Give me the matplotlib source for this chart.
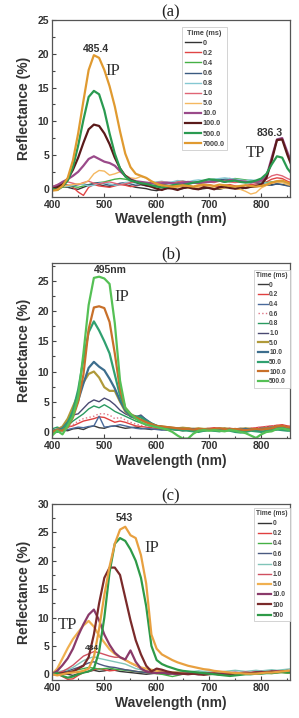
import numpy as np
import matplotlib
matplotlib.use('Agg')
import matplotlib.pyplot as plt
from matplotlib.ticker import MultipleLocator

SANS = 'Liberation Sans'
SERIF = 'Liberation Serif'
plt.rcParams['font.family'] = [SANS, 'DejaVu Sans']
plt.rcParams['font.weight'] = 'bold'

# wavelength grid shared by all spectra (nm)
wl = np.arange(400, 861, 10)

# ---------------- panel (a) ----------------
a_labels = ['0', '0.2', '0.4', '0.6', '0.8', '1.0', '5.0', '10.0', '100.0', '500.0', '7000.0']
a_colors = ['#333333', '#e04545', '#45b045', '#3a5a80', '#85c8d2', '#e06575',
            '#f5b860', '#9a4a8a', '#5a1a1a', '#2a9a50', '#e09a30']
a_0 = [0.0, 0.2, 0.3, 0.2, 0.0, -0.1, 0.2, 0.5, 0.7, 0.6,
       0.4, 0.3, 0.5, 0.7, 0.6, 0.4, 0.2, 0.1, 0.0, -0.2,
       -0.3, -0.1, 0.0, 0.1, -0.1, 0.0, 0.2, 0.1, -0.1, 0.0,
       0.1, 0.0, -0.1, 0.1, 0.2, 0.0, -0.1, 0.1, 0.2, 0.3,
       0.4, 0.5, 0.6, 0.7, 0.6, 0.5, 0.4]
a_02 = [0.0, 0.4, 0.8, 0.5, 0.2, -0.5, -1.0, 0.2, 0.6, 0.4,
        0.3, 0.2, 0.4, 0.6, 0.5, 0.3, 0.4, 0.6, 0.5, 0.3,
        0.4, 0.5, 0.3, 0.2, 0.4, 0.6, 0.5, 0.3, 0.4, 0.5,
        0.6, 0.4, 0.3, 0.5, 0.6, 0.4, 0.3, 0.5, 0.6, 0.7,
        0.8, 1.0, 1.4, 1.6, 1.5, 1.1, 0.8]
a_04 = [0.1, 0.3, 0.2, 0.4, 0.3, 0.2, 0.4, 0.6, 0.8, 0.9,
        1.0, 1.2, 1.4, 1.5, 1.4, 1.2, 1.0, 0.8, 0.6, 0.4,
        0.5, 0.6, 0.8, 0.9, 1.0, 1.1, 1.0, 0.9, 1.0, 1.2,
        1.3, 1.4, 1.3, 1.2, 1.4, 1.5, 1.4, 1.3, 1.2, 1.1,
        1.0, 0.9, 1.0, 1.1, 1.0, 0.8, 0.6]
a_06 = [0.1, 0.2, 0.4, 0.5, 0.4, 0.6, 0.7, 0.5, 0.8, 0.9,
        0.7, 0.5, 0.6, 0.8, 0.9, 0.7, 0.5, 0.6, 0.4, 0.3,
        0.4, 0.6, 0.7, 0.8, 0.9, 0.8, 0.7, 0.8, 0.9, 1.0,
        1.1, 1.2, 1.3, 1.4, 1.5, 1.3, 1.2, 1.1, 1.0, 0.9,
        0.8, 0.6, 0.5, 0.7, 0.6, 0.4, 0.3]
a_08 = [0.3, 0.5, 0.4, 0.3, 0.5, 0.7, 0.6, 0.4, 0.5, 0.8,
        0.9, 0.7, 0.5, 0.6, 0.9, 1.0, 0.8, 0.6, 0.7, 0.9,
        1.0, 1.1, 0.9, 1.0, 1.2, 1.1, 1.0, 1.2, 1.3, 1.2,
        1.3, 1.4, 1.5, 1.6, 1.5, 1.4, 1.3, 1.2, 1.3, 1.2,
        1.0, 0.8, 0.9, 1.0, 0.9, 0.8, 0.7]
a_1 = [0.3, 0.6, 0.9, 1.0, 0.8, 0.6, 0.9, 1.1, 0.8, 0.7,
       0.9, 1.0, 0.8, 0.6, 0.7, 0.9, 1.0, 0.8, 0.7, 0.8,
       0.9, 1.0, 0.9, 0.8, 1.0, 1.1, 0.9, 0.8, 1.0, 1.1,
       1.0, 0.9, 1.1, 1.2, 1.0, 0.9, 1.0, 1.1, 0.9, 1.0,
       1.1, 1.4, 1.9, 2.1, 1.9, 1.5, 1.2]
a_5 = [-0.2, 0.1, 0.3, 0.5, 0.6, 0.7, 0.8, 1.2, 2.2, 2.7,
       2.6, 2.0, 2.2, 2.5, 2.0, 1.6, 1.5, 1.8, 1.6, 1.0,
       0.6, 0.4, 0.2, 0.1, 0.2, 0.3, 0.1, 0.0, 0.2, 0.3,
       0.2, 0.1, 0.0, 0.1, 0.2, 0.0, -0.1, -0.4, -0.8, -0.6,
       0.1, 0.5, 0.8, 1.0, 0.9, 0.6, 0.4]
a_10 = [0.2, 0.5, 1.0, 1.4, 1.9, 2.5, 3.4, 4.4, 4.8, 4.4,
        4.0, 3.8, 3.4, 2.6, 1.9, 1.4, 1.1, 1.0, 0.9, 0.8,
        0.7, 0.8, 0.9, 0.8, 0.7, 0.9, 1.0, 0.9, 0.8, 0.9,
        1.0, 1.1, 1.2, 1.0, 1.3, 1.2, 1.1, 1.0, 0.9, 1.1,
        1.2, 1.8, 4.6, 7.3, 7.5, 5.4, 3.4]
a_100 = [0.0, 0.2, 0.6, 1.4, 2.8, 4.6, 6.8, 8.8, 9.5, 9.3,
         8.2, 6.6, 4.6, 3.0, 1.9, 1.3, 1.0, 0.7, 0.5, 0.3,
         0.0, -0.2, 0.1, 0.0, -0.2, 0.1, 0.2, 0.0, -0.1, 0.2,
         0.1, -0.1, 0.2, 0.3, 0.1, 0.0, 0.2, 0.1, 0.3, 0.4,
         0.6, 1.6, 4.2, 7.2, 7.3, 5.0, 3.0]
a_500 = [0.0, -0.2, 0.3, 1.2, 3.2, 6.4, 10.2, 13.6, 14.5, 14.0,
         11.6, 8.2, 5.2, 3.0, 1.8, 1.2, 1.0, 0.8, 0.7, 0.5,
         0.3, 0.2, 0.3, 0.5, 0.6, 0.5, 0.7, 0.9, 1.0, 1.2,
         1.4, 1.3, 1.2, 1.0, 1.1, 1.2, 1.0, 0.9, 1.0, 1.2,
         1.5, 2.2, 3.6, 4.8, 4.6, 3.0, 2.0]
a_7000 = [-0.3, -0.2, 0.4, 1.6, 4.2, 8.2, 13.0, 17.6, 19.8, 19.4,
          17.6, 15.2, 12.2, 8.5, 5.2, 3.2, 2.2, 1.9, 1.6, 1.1,
          0.7, 0.5, 0.4, 0.3, 0.4, 0.5, 0.4, 0.3, 0.5, 0.6,
          0.5, 0.4, 0.6, 0.5, 0.4, 0.3, 0.4, 0.5, 0.4, 0.3,
          0.4, 0.6, 0.9, 1.1, 1.2, 0.9, 0.6]
a_curves = [a_0, a_02, a_04, a_06, a_08, a_1, a_5, a_10, a_100, a_500, a_7000]

# ---------------- panel (b) ----------------
b_labels = ['0', '0.2', '0.4', '0.6', '0.8', '1.0', '5.0', '10.0', '50.0', '100.0', '500.0']
b_colors = ['#3a3a3a', '#e04040', '#4a6a9a', '#e07585', '#2a9a60', '#4a4a72',
            '#b09a3a', '#3d6e8e', '#30a070', '#c8702a', '#55c055']
b_styles = ['-', '-', '-', ':', '-', '-', '-', '-', '-', '-', '-']
b_0 = [0.2, 0.4, 0.3, 0.2, 0.5, 0.6, 0.4, 0.8, 1.0, 0.7,
       0.6, 0.9, 1.0, 0.8, 0.6, 0.7, 0.8, 0.6, 0.5, 0.4,
       0.5, 0.4, 0.3, 0.4, 0.3, 0.2, 0.3, 0.4, 0.3, 0.2,
       0.3, 0.4, 0.3, 0.2, 0.3, 0.4, 0.3, 0.2, 0.3, 0.4,
       0.5, 0.6, 0.5, 0.4, 0.5, 0.4, 0.3]
b_02 = [0.0, 0.2, 0.5, 0.8, 1.0, 1.4, 1.8, 2.0, 2.2, 2.5,
        2.4, 2.0, 1.6, 1.8, 1.6, 1.3, 1.0, 0.9, 0.8, 0.7,
        0.6, 0.5, 0.6, 0.5, 0.4, 0.5, 0.6, 0.5, 0.4, 0.5,
        0.6, 0.7, 0.6, 0.5, 0.6, 0.5, 0.4, 0.5, 0.6, 0.7,
        0.8, 0.9, 1.0, 1.1, 1.2, 1.0, 0.9]
b_04 = [0.1, 0.3, 0.2, 0.4, 0.6, 0.8, 0.7, 0.9, 1.0, 2.6,
        0.8, 0.9, 1.0, 1.2, 1.0, 0.8, 0.6, 0.5, 0.6, 0.5,
        0.4, 0.3, 0.4, 0.5, 0.4, 0.3, 0.4, 0.5, 0.4, 0.3,
        0.4, 0.5, 0.4, 0.3, 0.4, 0.5, 0.4, 0.3, 0.4, 0.5,
        0.4, 0.5, 0.6, 0.7, 0.6, 0.5, 0.4]
b_06 = [0.0, 0.3, 0.6, 0.8, 1.2, 1.8, 2.2, 2.4, 2.6, 3.0,
        3.0, 2.8, 2.2, 2.4, 2.0, 1.6, 1.3, 1.1, 1.0, 0.9,
        0.8, 0.7, 0.6, 0.7, 0.6, 0.5, 0.6, 0.5, 0.4, 0.5,
        0.6, 0.5, 0.4, 0.5, 0.6, 0.5, 0.4, 0.5, 0.6, 0.7,
        0.8, 0.9, 1.0, 1.1, 1.0, 0.9, 0.8]
b_08 = [0.5, 0.8, 0.5, 1.0, 1.8, 2.4, 3.0, 3.8, 4.3, 4.0,
        4.5, 4.0, 3.4, 3.0, 2.6, 2.2, 1.8, 1.5, 1.2, 1.0,
        0.8, 0.6, 0.5, 0.4, 0.3, 0.2, 0.3, 0.2, 0.1, 0.2,
        0.3, 0.2, 0.1, 0.2, 0.3, 0.2, 0.1, 0.2, 0.3, 0.2,
        0.1, 0.0, 0.2, 0.4, 0.6, 0.5, 0.4]
b_1 = [0.2, 0.5, 0.8, 1.6, 2.8, 3.0, 3.9, 4.8, 5.3, 5.0,
       5.6, 5.2, 4.5, 3.6, 3.0, 2.6, 2.5, 2.8, 2.0, 1.4,
       1.0, 0.9, 0.8, 0.7, 0.6, 0.5, 0.6, 0.5, 0.4, 0.5,
       0.4, 0.5, 0.6, 0.5, 0.4, 0.5, 0.6, 0.5, 0.4, 0.5,
       0.6, 0.7, 0.8, 0.9, 0.8, 0.7, 0.6]
b_5 = [0.0, 0.4, 0.9, 2.2, 4.2, 6.2, 8.2, 9.6, 10.0, 9.0,
       7.4, 6.8, 6.8, 5.0, 3.4, 2.6, 2.2, 2.0, 1.6, 1.2,
       1.0, 0.9, 0.8, 0.7, 0.6, 0.7, 0.6, 0.5, 0.6, 0.5,
       0.5, 0.4, 0.5, 0.6, 0.5, 0.4, 0.5, 0.6, 0.5, 0.4,
       0.5, 0.6, 0.7, 0.9, 0.8, 0.7, 0.6]
b_10 = [0.0, 0.3, 0.6, 1.6, 3.0, 5.2, 8.0, 10.6, 11.6, 10.8,
        10.2, 8.8, 7.2, 5.2, 3.6, 2.6, 2.3, 2.6, 2.0, 1.4,
        1.0, 0.8, 0.7, 0.6, 0.5, 0.5, 0.4, 0.5, 0.4, 0.3,
        0.4, 0.3, 0.4, 0.5, 0.4, 0.3, 0.4, 0.5, 0.4, 0.3,
        0.4, 0.5, 0.6, 0.8, 0.7, 0.6, 0.5]
b_50 = [0.2, 0.0, 0.4, 1.5, 3.5, 7.0, 12.0, 16.5, 18.3, 16.8,
        15.0, 13.0, 9.5, 6.0, 3.8, 2.8, 2.6, 2.4, 1.8, 1.4,
        1.0, 0.8, 0.6, 0.5, 0.4, 0.3, 0.2, 0.1, 0.0, 0.2,
        0.3, 0.2, 0.1, 0.3, 0.2, 0.0, -0.1, 0.0, 0.2, 0.1,
        0.0, 0.2, 0.3, 0.4, 0.3, 0.2, 0.2]
b_100 = [0.0, 0.3, 0.2, 0.8, 2.4, 5.0, 9.5, 17.0, 20.6, 20.8,
         20.5, 18.2, 13.0, 7.0, 4.0, 3.0, 2.4, 2.0, 1.6, 1.3,
         1.0, 0.9, 0.8, 0.7, 0.6, 0.5, 0.5, 0.4, 0.5, 0.4,
         0.4, 0.5, 0.6, 0.5, 0.4, 0.5, 0.4, 0.3, 0.4, 0.5,
         0.4, 0.5, 0.6, 0.9, 1.0, 0.8, 0.6]
b_500 = [-0.6, 0.2, -0.4, 1.0, 2.6, 5.8, 13.0, 21.0, 25.5, 25.7,
         25.4, 24.5, 18.0, 8.5, 4.0, 3.0, 2.2, 1.6, 1.2, 1.0,
         0.8, 0.6, 0.4, 0.0, -0.6, -1.1, -1.1, -0.3, 0.2, 0.3,
         0.2, 0.3, 0.2, 0.1, 0.3, 0.2, 0.0, -0.2, -0.6, -1.0,
         -0.4, 0.0, 0.1, 0.5, 0.6, 0.4, 0.3]
b_curves = [b_0, b_02, b_04, b_06, b_08, b_1, b_5, b_10, b_50, b_100, b_500]

# ---------------- panel (c) ----------------
c_labels = ['0', '0.2', '0.4', '0.6', '0.8', '1.0', '5.0', '10.0', '100', '500']
c_colors = ['#333333', '#e04040', '#45b045', '#4a5a80', '#80c4b8', '#d05060',
            '#f0b050', '#8a3a6a', '#7a2a2a', '#2e9a48']
c_0 = [0.0, 0.2, 0.1, 0.0, -0.2, 0.1, 0.3, 0.5, 0.7, 0.5,
       0.6, 0.8, 0.7, 0.5, 0.4, 0.3, 0.2, 0.1, 0.0, 0.1,
       0.2, 0.1, 0.0, 0.1, 0.2, 0.1, 0.0, 0.1, 0.2, 0.1,
       0.0, 0.1, 0.2, 0.1, 0.0, 0.1, 0.2, 0.3, 0.2, 0.3,
       0.4, 0.3, 0.4, 0.5, 0.4, 0.5, 0.4]
c_02 = [0.2, 0.0, -0.4, -0.9, -0.8, -0.2, 0.3, 0.5, 0.8, 1.0,
        0.8, 0.6, 0.7, 0.9, 0.8, 0.6, 0.5, 0.4, 0.3, 0.2,
        0.3, 0.2, 0.1, 0.2, 0.3, 0.2, 0.1, 0.2, 0.3, 0.2,
        0.1, 0.2, 0.3, 0.2, 0.1, 0.2, 0.3, 0.2, 0.3, 0.4,
        0.5, 0.4, 0.3, 0.4, 0.5, 0.4, 0.3]
c_04 = [0.0, 0.3, 0.5, 0.4, 0.6, 0.8, 1.0, 1.2, 1.1, 0.9,
        1.0, 1.1, 0.9, 0.8, 0.7, 0.6, 0.5, 0.4, 0.3, 0.2,
        0.1, 0.0, -0.2, -0.4, -0.2, 0.0, 0.1, 0.2, 0.1, 0.0,
        0.1, 0.2, 0.1, 0.0, 0.1, 0.2, 0.1, 0.2, 0.3, 0.2,
        0.3, 0.2, 0.3, 0.4, 0.3, 0.2, 0.3]
c_06 = [0.3, 0.5, 0.4, 0.6, 0.9, 1.2, 1.6, 2.0, 2.2, 1.8,
        1.5, 1.3, 1.2, 1.0, 0.8, 0.7, 0.5, 0.4, 0.3, 0.2,
        0.3, 0.2, 0.1, 0.2, 0.3, 0.2, 0.1, 0.2, 0.3, 0.2,
        0.3, 0.2, 0.3, 0.4, 0.3, 0.2, 0.3, 0.4, 0.3, 0.2,
        0.3, 0.4, 0.5, 0.4, 0.5, 0.6, 0.5]
c_08 = [0.2, 0.4, 0.6, 0.8, 1.2, 1.8, 2.4, 2.8, 3.1, 2.8,
        2.6, 2.4, 2.2, 2.0, 1.8, 1.4, 1.0, 0.8, 0.6, 0.5,
        0.4, 0.5, 0.4, 0.3, 0.4, 0.5, 0.4, 0.5, 0.6, 0.5,
        0.6, 0.5, 0.4, 0.5, 0.6, 0.7, 0.6, 0.5, 0.6, 0.7,
        0.6, 0.7, 0.8, 0.7, 0.8, 0.9, 1.0]
c_1 = [0.0, 0.2, 0.5, 1.0, 1.6, 2.4, 3.2, 3.6, 4.0, 3.8,
       3.5, 3.2, 3.0, 3.0, 2.6, 2.0, 1.5, 1.0, 0.6, 0.4,
       0.3, 0.4, 0.3, 0.2, 0.1, 0.2, 0.3, 0.2, 0.1, 0.2,
       0.3, 0.2, 0.1, 0.2, 0.3, 0.2, 0.3, 0.4, 0.3, 0.4,
       0.5, 0.4, 0.5, 0.6, 0.5, 0.6, 0.5]
c_5 = [0.0, 1.0, 2.8, 4.6, 6.2, 7.4, 8.6, 9.4, 8.4, 6.8,
       5.6, 4.4, 3.6, 3.0, 2.5, 2.0, 1.6, 1.2, 1.0, 0.8,
       0.6, 0.5, 0.4, 0.3, 0.3, 0.2, 0.2, 0.3, 0.2, 0.1,
       0.2, 0.1, 0.0, 0.1, 0.2, 0.1, 0.0, 0.1, 0.2, 0.1,
       0.2, 0.3, 0.2, 0.3, 0.4, 0.3, 0.2]
c_10 = [0.0, 0.6, 1.6, 2.8, 4.5, 6.8, 8.8, 10.5, 11.4, 9.5,
        7.0, 5.2, 3.8, 3.0, 2.6, 4.2, 2.2, 1.0, 0.5, 0.3,
        0.2, 0.3, 0.2, 0.1, 0.0, 0.1, 0.2, 0.1, 0.0, 0.1,
        0.2, 0.1, 0.0, 0.1, 0.2, 0.3, 0.2, 0.1, 0.2, 0.3,
        0.4, 0.3, 0.4, 0.5, 0.4, 0.5, 0.4]
c_100 = [0.0, 0.1, 0.2, 0.3, 0.5, 1.0, 1.5, 3.0, 7.0, 12.5,
         17.0, 18.8, 18.8, 17.5, 13.5, 9.5, 6.0, 3.5, 1.5, 0.5,
         1.0, 0.8, 0.5, 0.3, 0.2, 0.1, 0.0, 0.1, 0.0, -0.1,
         0.0, 0.1, 0.0, -0.1, 0.0, 0.1, 0.2, 0.1, 0.2, 0.3,
         0.3, 0.4, 0.5, 0.4, 0.5, 0.6, 0.5]
c_500 = [0.0, 0.2, -0.3, -0.6, -0.4, 0.0, 0.3, 0.5, 1.0, 4.0,
         10.0, 18.0, 23.0, 24.0, 23.5, 22.0, 20.0, 17.0, 12.0, 5.0,
         2.5, 1.8, 1.4, 1.1, 0.8, 0.6, 0.5, 0.4, 0.3, 0.2,
         0.1, 0.0, -0.1, -0.2, -0.3, -0.2, -0.1, 0.0, 0.0, 0.1,
         0.1, 0.2, 0.2, 0.3, 0.4, 0.3, 0.3]
c_curves = [c_0, c_02, c_04, c_06, c_08, c_1, c_5, c_10, c_100, c_500]
# the tallest orange spectrum in (c) has no legend entry
c_extra = [0.0, -0.2, 0.0, 0.2, 0.3, 0.4, 0.6, 1.0, 3.0, 8.0,
           14.0, 19.0, 23.0, 25.5, 26.0, 24.5, 24.0, 21.0, 16.0, 7.0,
           4.5, 3.5, 3.0, 2.5, 2.1, 1.8, 1.5, 1.3, 1.1, 0.9,
           0.8, 0.6, 0.5, 0.4, 0.3, 0.2, 0.2, 0.1, 0.1, 0.1,
           0.2, 0.3, 0.3, 0.4, 0.5, 0.6, 0.7]


def style_axes(ax, ylim, title):
    ax.set_xlim(400, 855)
    ax.set_ylim(*ylim)
    ax.xaxis.set_major_locator(MultipleLocator(100))
    ax.xaxis.set_minor_locator(MultipleLocator(50))
    ax.yaxis.set_major_locator(MultipleLocator(5))
    ax.yaxis.set_minor_locator(MultipleLocator(2.5))
    ax.tick_params(which='both', direction='in', width=0.8, colors='#444444',
                   labelcolor='#333333', labelsize=7.5, pad=2)
    ax.tick_params(which='major', length=3)
    ax.tick_params(which='minor', length=1.8)
    for sp in ax.spines.values():
        sp.set_color('#555555')
        sp.set_linewidth(0.9)
    ax.set_xlabel('Wavelength (nm)', fontweight='bold', fontsize=10,
                  color='#333333', labelpad=2)
    ax.set_ylabel('Reflectance (%)', fontweight='bold', fontsize=10,
                  color='#333333', labelpad=5)
    ax.set_title(title, fontfamily=SERIF, fontweight='normal', fontsize=12,
                 color='#222222', pad=2)


def add_legend(ax, anchor, loc, fs, hl, ls):
    leg = ax.legend(title='Time (ms)', loc=loc, bbox_to_anchor=anchor,
                    handlelength=hl, handletextpad=0.2, labelspacing=ls,
                    borderpad=0.35, borderaxespad=0, fancybox=False,
                    framealpha=1, edgecolor='#cccccc',
                    prop={'family': SANS, 'weight': 'bold', 'size': fs})
    leg.get_title().set_fontweight('bold')
    leg.get_title().set_fontsize(fs)
    leg.get_title().set_color('#444444')
    leg.get_frame().set_linewidth(0.6)
    for t in leg.get_texts():
        t.set_color('#444444')


def note(ax, x, y, s, size, serif=False):
    if serif:
        ax.text(x, y, s, fontfamily=SERIF, fontweight='normal', fontsize=size,
                color='#333333', ha='center', va='center')
    else:
        ax.text(x, y, s, fontweight='bold', fontsize=size,
                color='#333333', ha='center', va='center')


fig = plt.figure(figsize=(2.99, 7.18), dpi=100)
ax_a = fig.add_axes([0.174, 0.726, 0.796, 0.246])
ax_b = fig.add_axes([0.174, 0.390, 0.796, 0.244])
ax_c = fig.add_axes([0.174, 0.053, 0.796, 0.245])

# panel (a)
for y, lab, col in zip(a_curves, a_labels, a_colors):
    lw = 1.6 if lab in ('10.0', '100.0', '500.0', '7000.0') else 1.0
    ax_a.plot(wl, y, color=col, lw=lw, label=lab)
style_axes(ax_a, (-1.2, 25), '(a)')
add_legend(ax_a, (0.546, 0.96), 'upper left', 5.2, 2.3, 0.42)
note(ax_a, 483, 20.7, '485.4', 7.5)
note(ax_a, 517, 17.5, 'IP', 12, serif=True)
note(ax_a, 817, 8.3, '836.3', 7.5)
note(ax_a, 788, 5.3, 'TP', 12, serif=True)

# panel (b)
for y, lab, col, ls in zip(b_curves, b_labels, b_colors, b_styles):
    lw = 1.6 if lab in ('5.0', '10.0', '50.0', '100.0', '500.0') else 1.0
    ax_b.plot(wl, y, color=col, lw=lw, ls=ls, label=lab)
style_axes(ax_b, (-1.0, 28), '(b)')
add_legend(ax_b, (1.0, 0.96), 'upper right', 4.8, 1.5, 0.4)
note(ax_b, 512, 26.8, '495nm', 7.5)
note(ax_b, 534, 22.4, 'IP', 12, serif=True)

# panel (c)
for y, lab, col in zip(c_curves, c_labels, c_colors):
    lw = 1.6 if lab in ('5.0', '10.0', '100', '500') else 1.0
    ax_c.plot(wl, y, color=col, lw=lw, label=lab)
ax_c.plot(wl, c_extra, color='#e8a040', lw=1.6)
style_axes(ax_c, (-1.0, 30), '(c)')
add_legend(ax_c, (1.0, 0.98), 'upper right', 4.8, 2.0, 0.48)
note(ax_c, 539, 27.5, '543', 7.5)
note(ax_c, 591, 22.2, 'IP', 12, serif=True)
note(ax_c, 430, 8.6, 'TP', 12, serif=True)
note(ax_c, 476, 4.6, '484', 6)

fig.savefig('out.png', dpi=100)
